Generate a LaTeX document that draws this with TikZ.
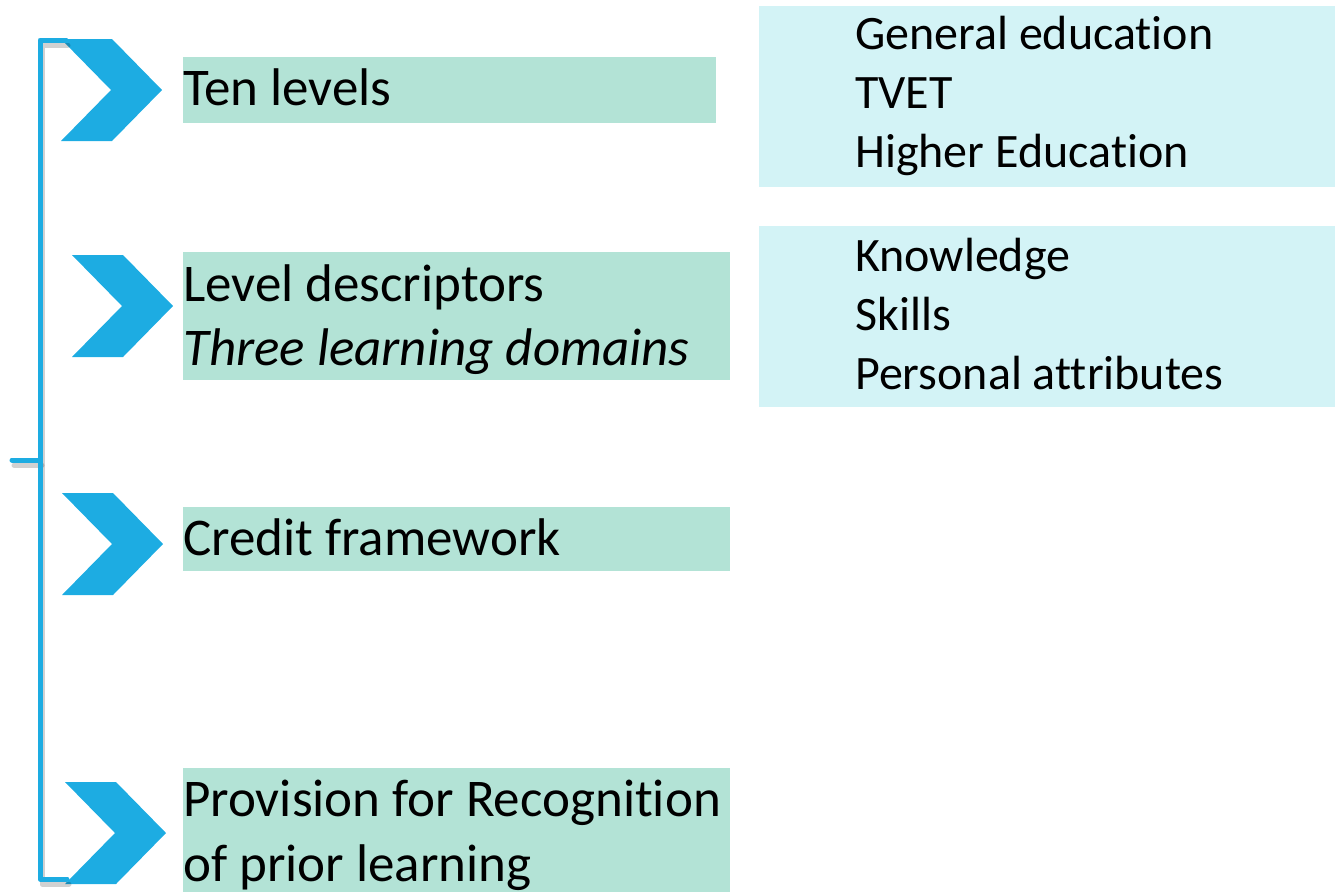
\documentclass[tikz,border=0pt]{standalone}
\usepackage{fontspec}
\setmainfont{Carlito}[Ligatures=NoCommon]
\usepackage{tikz}

\definecolor{chevblue}{RGB}{29,172,226}
\definecolor{boxgreen}{RGB}{179,227,214}
\definecolor{boxblue}{RGB}{211,243,246}

\begin{document}
\begin{tikzpicture}[x=1pt,y=1pt]
\tikzstyle{every node}+=[inner sep=0pt]
\tikzstyle{chev}=[fill=chevblue]
\tikzstyle{gbox}=[fill=boxgreen, anchor=north west]
\tikzstyle{bbox}=[fill=boxblue, anchor=north west]
\tikzstyle{gtext}=[anchor=base west, font=\fontsize{53}{64}\selectfont]
\tikzstyle{btext}=[anchor=base west, font=\fontsize{48}{59}\selectfont]
\tikzstyle{bracket}=[draw=chevblue, line width=5pt, line cap=round, line join=round]
\useasboundingbox (0,0) rectangle (1335,-892);
% right hand boxes
\node [bbox, minimum width=576pt, minimum height=181pt] (sectors) at (759,-6) {};
\node [bbox, minimum width=576pt, minimum height=181pt] (domains) at (759,-226) {};
\node [btext] (general) at (855,-49) {General education};
\node [btext] (tvet) at (855,-108) {TVET};
\node [btext] (higher) at (855,-167) {Higher Education};
\node [btext] (knowledge) at (855,-271) {Knowledge};
\node [btext] (skills) at (855,-330) {Skills};
\node [btext] (personal) at (855,-389) {Personal attributes};
% left hand boxes
\node [gbox, minimum width=533pt, minimum height=66pt] (levels) at (183,-57) {};
\node [gbox, minimum width=547pt, minimum height=128pt] (descr) at (183,-252) {};
\node [gbox, minimum width=547pt, minimum height=64pt] (credit) at (183,-507) {};
\node [gbox, minimum width=547pt, minimum height=124pt] (rpl) at (183,-768) {};
\node [gtext] (levelst) at (183,-105) {Ten levels};
\node [gtext] (descrt) at (183,-301) {Level descriptors};
\node [gtext] (descrs) at (183,-365) {\itshape Three learning domains};
\node [gtext] (creditt) at (183,-555) {Credit framework};
\node [gtext] (rplt) at (183,-816) {Provision for Recognition};
\node [gtext] (rpls) at (183,-881) {of prior learning};
% chevrons
\fill [chev] (61,-39) -- (112,-39) -- (162,-90) -- (112,-141) -- (61,-141) -- (111,-90) -- cycle;
\fill [chev] (72,-255) -- (123,-255) -- (173,-306) -- (123,-357) -- (72,-357) -- (122,-306) -- cycle;
\fill [chev] (62,-493) -- (113,-493) -- (163,-544) -- (113,-595) -- (62,-595) -- (112,-544) -- cycle;
\fill [chev] (65,-782) -- (116,-782) -- (166,-833) -- (116,-884) -- (65,-884) -- (115,-833) -- cycle;
% bracket with its shadow
\draw [bracket, draw=black, opacity=0.18] (68,-45) -- (42,-45) -- (42,-884) -- (69,-884);
\draw [bracket, draw=black, opacity=0.18] (14,-465) -- (42,-465);
\draw [bracket] (66,-40) -- (40,-40) -- (40,-879) -- (67,-879);
\draw [bracket] (12,-460) -- (40,-460);
\end{tikzpicture}
\end{document}
